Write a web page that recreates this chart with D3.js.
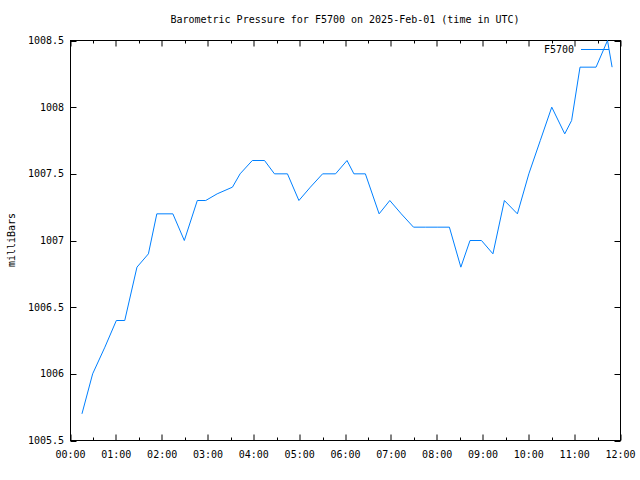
<!DOCTYPE html>
<html><head><meta charset="utf-8">
<script src="https://cdn.jsdelivr.net/npm/d3@7"></script>
<style>body{margin:0;background:#fff}text{font-family:"DejaVu Sans Mono",monospace;font-size:10px;fill:#000}</style>
</head><body>
<script>
const times = ["00:15","00:29","00:45","01:00","01:11","01:27","01:42","01:53","02:14","02:29","02:46","02:57","03:12","03:32","03:42","03:58","04:14","04:27","04:44","04:59","05:14","05:30","05:47","06:02","06:11","06:26","06:44","06:58","07:13","07:29","07:45","08:00","08:16","08:31","08:43","08:58","09:13","09:28","09:45","10:00","10:15","10:30","10:47","10:56","11:07","11:28","11:43","11:49"];
const pressure = [1005.7,1006.0,1006.2,1006.4,1006.4,1006.8,1006.9,1007.2,1007.2,1007.0,1007.3,1007.3,1007.35,1007.4,1007.5,1007.6,1007.6,1007.5,1007.5,1007.3,1007.4,1007.5,1007.5,1007.6,1007.5,1007.5,1007.2,1007.3,1007.2,1007.1,1007.1,1007.1,1007.1,1006.8,1007.0,1007.0,1006.9,1007.3,1007.2,1007.5,1007.75,1008.0,1007.8,1007.9,1008.3,1008.3,1008.5,1008.3];
const yTicks = [1005.5,1006,1006.5,1007,1007.5,1008,1008.5];
const xTickLabels = ["00:00","01:00","02:00","03:00","04:00","05:00","06:00","07:00","08:00","09:00","10:00","11:00","12:00"];
const seriesName = "F5700";
const title = "Barometric Pressure for F5700 on 2025-Feb-01 (time in UTC)";
const yLabel = "milliBars";

const W=640,H=480, L=70.5, R=620.5, T=40.5, B=440.5;
const toH = s => { const [h,m]=s.split(":").map(Number); return h+m/60; };
const x = d3.scaleLinear().domain([0,12]).range([L,R]);
const y = d3.scaleLinear().domain([1005.5,1008.5]).range([B,T]);
const svg = d3.select("body").append("svg").attr("width",W).attr("height",H);

// ticks
const g = svg.append("g").attr("stroke","#000").attr("stroke-width",1).attr("fill","none");
const hourTicks = d3.range(0,12.01,1), halfTicks = d3.range(0.5,12,1);
hourTicks.forEach(h=>{ const xx=Math.round(x(h))+0.5-0.5;
  g.append("line").attr("x1",xx).attr("x2",xx).attr("y1",B).attr("y2",B-6);
  g.append("line").attr("x1",xx).attr("x2",xx).attr("y1",T).attr("y2",T+6);});
halfTicks.forEach(h=>{ const xx=Math.round(x(h));
  g.append("line").attr("x1",xx+0.5).attr("x2",xx+0.5).attr("y1",B).attr("y2",B-3);
  g.append("line").attr("x1",xx+0.5).attr("x2",xx+0.5).attr("y1",T).attr("y2",T+3);});
yTicks.forEach(v=>{ const yy=Math.round(y(v))+0.5;
  g.append("line").attr("x1",L).attr("x2",L+6).attr("y1",yy).attr("y2",yy);
  g.append("line").attr("x1",R).attr("x2",R-6).attr("y1",yy).attr("y2",yy);});
g.append("rect").attr("x",L).attr("y",T).attr("width",R-L).attr("height",B-T);

// labels
xTickLabels.forEach((t,i)=> svg.append("text").attr("x",x(i)).attr("y",458).attr("text-anchor","middle").text(t));
yTicks.forEach(v=> svg.append("text").attr("x",64).attr("y",y(v)).attr("dy","0.35em").attr("text-anchor","end").text(d3.format("")(v)));
svg.append("text").attr("x",345).attr("y",23).attr("text-anchor","middle").text(title);
svg.append("text").attr("transform","translate(15,240) rotate(-90)").attr("text-anchor","middle").text(yLabel);

// line
const data = times.map((t,i)=>({t:toH(t),v:pressure[i]}));
svg.append("path").datum(data).attr("fill","none").attr("stroke","#0080ff").attr("stroke-width",1)
  .attr("d",d3.line().x(d=>x(d.t)).y(d=>y(d.v)));

// legend
svg.append("text").attr("x",574).attr("y",49).attr("dy","0.35em").attr("text-anchor","end").text(seriesName);
svg.append("line").attr("x1",581).attr("x2",609).attr("y1",49.5).attr("y2",49.5).attr("stroke","#0080ff");
</script>
</body></html>
